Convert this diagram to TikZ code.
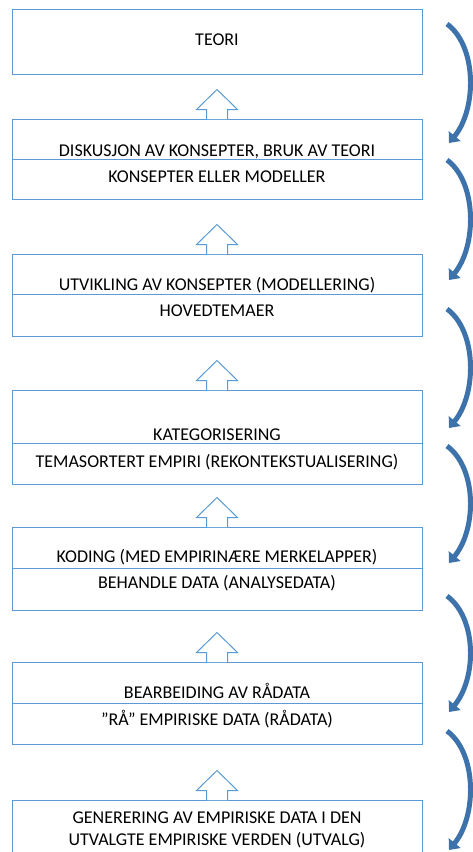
\documentclass[tikz,border=0pt]{standalone}
\usepackage{fontspec}
\setmainfont{Carlito}
\usetikzlibrary{arrows.meta}
\definecolor{boxblue}{HTML}{5B9BD5}
\definecolor{cycleblue}{HTML}{3D72AB}
\tikzset{
  stage/.style={draw=boxblue, line width=1pt, minimum width=410pt, inner sep=0pt},
  caption/.style={anchor=base, inner sep=0pt, font=\fontsize{18}{21}\selectfont},
  blockarrow/.style={draw=boxblue, line width=1pt, fill=white},
  cyclearrow/.style={draw=cycleblue, line width=5pt, -{Triangle[width=15pt,length=9pt]}}
}
\begin{document}
\begin{tikzpicture}[x=1pt,y=-1pt]
  \useasboundingbox (0,0) rectangle (473,852);

  % stages
  \node[stage, minimum height=65pt] (teori) at (217,41.5) {};
  \node[stage, minimum height=40pt] (disktop) at (217,139) {};
  \node[stage, minimum height=40pt] (diskbot) at (217,179) {};
  \node[stage, minimum height=40pt] (utvtop) at (217,274) {};
  \node[stage, minimum height=42pt] (utvbot) at (217,315) {};
  \node[stage, minimum height=53pt] (kattop) at (217,416.5) {};
  \node[stage, minimum height=41pt] (katbot) at (217,463.5) {};
  \node[stage, minimum height=41pt] (kodtop) at (217,547.5) {};
  \node[stage, minimum height=42pt] (kodbot) at (217,589) {};
  \node[stage, minimum height=41pt] (beatop) at (217,682.5) {};
  \node[stage, minimum height=41pt] (beabot) at (217,723.5) {};
  \node[stage, minimum height=70pt] (gen) at (217,835) {};

  % texts
  \node[caption] (teoritxt) at (217,45) {TEORI};
  \node[caption] (disktxt) at (217,156) {DISKUSJON AV KONSEPTER, BRUK AV TEORI};
  \node[caption] (konstxt) at (217,182) {KONSEPTER ELLER MODELLER};
  \node[caption] (utvtxt) at (217,290) {UTVIKLING AV KONSEPTER (MODELLERING)};
  \node[caption] (hovtxt) at (217,316) {HOVEDTEMAER};
  \node[caption] (kattxt) at (217,440) {KATEGORISERING};
  \node[caption] (temtxt) at (217,467) {TEMASORTERT EMPIRI (REKONTEKSTUALISERING)};
  \node[caption] (kodtxt) at (217,562) {KODING (MED EMPIRINÆRE MERKELAPPER)};
  \node[caption] (behtxt) at (217,588) {BEHANDLE DATA (ANALYSEDATA)};
  \node[caption] (beatxt) at (217,698) {BEARBEIDING AV RÅDATA};
  \node[caption] (raatxt) at (217,725) {”RÅ” EMPIRISKE DATA (RÅDATA)};
  \node[caption] (gentxt) at (217,823) {GENERERING AV EMPIRISKE DATA I DEN};
  \node[caption] (utvalgtxt) at (217,845) {UTVALGTE EMPIRISKE VERDEN (UTVALG)};

  % block arrows between stages
  \draw[blockarrow] ([xshift=-10.5pt,yshift=-0.6pt]disktop.north) -- ++(0,-9.6) -- ++(-10,0) -- ++(20.5,-20) -- ++(20.5,20) -- ++(-10,0) -- ++(0,9.6);
  \draw[blockarrow] ([xshift=-10.5pt,yshift=-0.6pt]utvtop.north) -- ++(0,-9.6) -- ++(-10,0) -- ++(20.5,-20) -- ++(20.5,20) -- ++(-10,0) -- ++(0,9.6);
  \draw[blockarrow] ([xshift=-10.5pt,yshift=-0.6pt]kattop.north) -- ++(0,-9.6) -- ++(-10,0) -- ++(20.5,-20) -- ++(20.5,20) -- ++(-10,0) -- ++(0,9.6);
  \draw[blockarrow] ([xshift=-10.5pt,yshift=-0.6pt]kodtop.north) -- ++(0,-9.6) -- ++(-10,0) -- ++(20.5,-20) -- ++(20.5,20) -- ++(-10,0) -- ++(0,9.6);
  \draw[blockarrow] ([xshift=-10.5pt,yshift=-0.6pt]beatop.north) -- ++(0,-9.6) -- ++(-10,0) -- ++(20.5,-20) -- ++(20.5,20) -- ++(-10,0) -- ++(0,9.6);
  \draw[blockarrow] ([xshift=-10.5pt,yshift=-0.6pt]gen.north) -- ++(0,-9.6) -- ++(-10,0) -- ++(20.5,-20) -- ++(20.5,20) -- ++(-10,0) -- ++(0,9.6);

  % curved arrows on the right
  \coordinate (c1s) at (447,24);  \coordinate (c1e) at (449,143);
  \coordinate (c2s) at (447,160); \coordinate (c2e) at (449,280);
  \coordinate (c3s) at (447,309); \coordinate (c3e) at (449,428);
  \coordinate (c4s) at (447,446); \coordinate (c4e) at (449,563);
  \coordinate (c5s) at (447,596); \coordinate (c5e) at (449,712);
  \coordinate (c6s) at (447,731); \coordinate (c6e) at (449,850);
  \draw[cyclearrow] (c1s) .. controls ++(30,22) and ++(28,-34) .. (c1e);
  \draw[cyclearrow] (c2s) .. controls ++(30,22) and ++(28,-34) .. (c2e);
  \draw[cyclearrow] (c3s) .. controls ++(30,22) and ++(28,-34) .. (c3e);
  \draw[cyclearrow] (c4s) .. controls ++(30,22) and ++(28,-34) .. (c4e);
  \draw[cyclearrow] (c5s) .. controls ++(30,22) and ++(28,-34) .. (c5e);
  \draw[cyclearrow] (c6s) .. controls ++(30,22) and ++(28,-34) .. (c6e);
\end{tikzpicture}
\end{document}
